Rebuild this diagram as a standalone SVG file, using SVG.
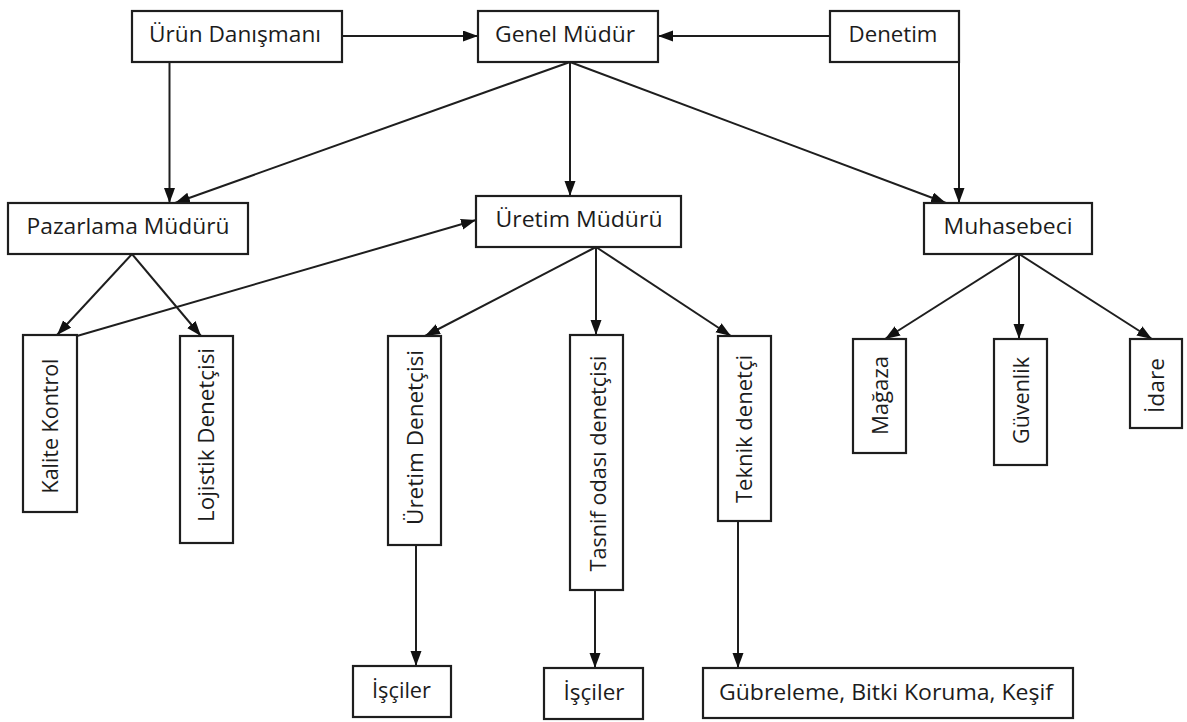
<svg xmlns="http://www.w3.org/2000/svg" width="1187" height="722" viewBox="0 0 1187 722">
<style>
.box{fill:#fff;stroke:#1e1e1e;stroke-width:2.2}
.t{font-family:"Open Sans","Noto Sans","DejaVu Sans",sans-serif;font-size:22.5px;fill:#1c1c1c;text-anchor:middle}
.c{fill:none;stroke:#1e1e1e;stroke-width:2}
</style>
<defs>
<marker id="ah" markerUnits="userSpaceOnUse" markerWidth="16" markerHeight="12" refX="15" refY="5.5" orient="auto">
<path d="M0,0 L15,5.5 L0,11 z" fill="#111"/>
</marker>
</defs>
<rect width="1187" height="722" fill="#fff"/>
<g id="connectors">
<line class="c" x1="342" y1="36" x2="478" y2="36" marker-end="url(#ah)"/>
<line class="c" x1="830" y1="36" x2="658" y2="36" marker-end="url(#ah)"/>
<line class="c" x1="169.5" y1="62" x2="169.5" y2="203" marker-end="url(#ah)"/>
<line class="c" x1="570" y1="62" x2="175" y2="203" marker-end="url(#ah)"/>
<line class="c" x1="570" y1="62" x2="570" y2="196" marker-end="url(#ah)"/>
<line class="c" x1="570" y1="62" x2="946" y2="203" marker-end="url(#ah)"/>
<line class="c" x1="959" y1="62" x2="959" y2="203" marker-end="url(#ah)"/>
<line class="c" x1="77" y1="336" x2="476" y2="220" marker-end="url(#ah)"/>
<line class="c" x1="132" y1="254" x2="57" y2="335" marker-end="url(#ah)"/>
<line class="c" x1="132" y1="254" x2="201" y2="336" marker-end="url(#ah)"/>
<line class="c" x1="596" y1="247" x2="425" y2="336" marker-end="url(#ah)"/>
<line class="c" x1="596" y1="247" x2="596" y2="335" marker-end="url(#ah)"/>
<line class="c" x1="596" y1="247" x2="731" y2="336" marker-end="url(#ah)"/>
<line class="c" x1="1019" y1="254" x2="885" y2="339" marker-end="url(#ah)"/>
<line class="c" x1="1019" y1="254" x2="1019" y2="339" marker-end="url(#ah)"/>
<line class="c" x1="1019" y1="254" x2="1152" y2="339" marker-end="url(#ah)"/>
<line class="c" x1="416" y1="545" x2="416" y2="666" marker-end="url(#ah)"/>
<line class="c" x1="595" y1="590" x2="595" y2="668" marker-end="url(#ah)"/>
<line class="c" x1="738" y1="521" x2="738" y2="668" marker-end="url(#ah)"/>
</g>
<g id="urun-danismani"><rect class="box" x="132" y="11" width="210" height="51"/><text class="t" x="235" y="42" textLength="172" lengthAdjust="spacingAndGlyphs">Ürün Danışmanı</text></g>
<g id="genel-mudur"><rect class="box" x="478" y="11" width="180" height="51"/><text class="t" x="565" y="42" textLength="140" lengthAdjust="spacingAndGlyphs">Genel Müdür</text></g>
<g id="denetim"><rect class="box" x="830" y="11" width="129" height="51"/><text class="t" x="893" y="42" textLength="89" lengthAdjust="spacingAndGlyphs">Denetim</text></g>
<g id="pazarlama-muduru"><rect class="box" x="8" y="203" width="240" height="51"/><text class="t" x="128" y="234" textLength="203" lengthAdjust="spacingAndGlyphs">Pazarlama Müdürü</text></g>
<g id="uretim-muduru"><rect class="box" x="476" y="196" width="205" height="51"/><text class="t" x="579" y="227" textLength="167" lengthAdjust="spacingAndGlyphs">Üretim Müdürü</text></g>
<g id="muhasebeci"><rect class="box" x="924" y="203" width="168" height="51"/><text class="t" x="1008" y="234" textLength="129" lengthAdjust="spacingAndGlyphs">Muhasebeci</text></g>
<g id="kalite-kontrol"><rect class="box" x="23" y="335" width="54" height="177"/><text class="t" transform="translate(49.5,426) rotate(-90)" x="0" y="8" textLength="135" lengthAdjust="spacingAndGlyphs">Kalite Kontrol</text></g>
<g id="lojistik-denetcisi"><rect class="box" x="180" y="336" width="53" height="207"/><text class="t" transform="translate(206,435) rotate(-90)" x="0" y="8" textLength="174" lengthAdjust="spacingAndGlyphs">Lojistik Denetçisi</text></g>
<g id="uretim-denetcisi"><rect class="box" x="388" y="336" width="53" height="209"/><text class="t" transform="translate(414.5,437.5) rotate(-90)" x="0" y="8" textLength="175" lengthAdjust="spacingAndGlyphs">Üretim Denetçisi</text></g>
<g id="tasnif-odasi-denetcisi"><rect class="box" x="570" y="335" width="53" height="255"/><text class="t" transform="translate(598,463.5) rotate(-90)" x="0" y="8" textLength="216" lengthAdjust="spacingAndGlyphs">Tasnif odası denetçisi</text></g>
<g id="teknik-denetci"><rect class="box" x="718" y="336" width="53" height="185"/><text class="t" transform="translate(744,429) rotate(-90)" x="0" y="8" textLength="148" lengthAdjust="spacingAndGlyphs">Teknik denetçi</text></g>
<g id="magaza"><rect class="box" x="853" y="339" width="53" height="114"/><text class="t" transform="translate(879.5,395.5) rotate(-90)" x="0" y="8" textLength="79" lengthAdjust="spacingAndGlyphs">Mağaza</text></g>
<g id="guvenlik"><rect class="box" x="994" y="339" width="53" height="126"/><text class="t" transform="translate(1020.5,400.5) rotate(-90)" x="0" y="8" textLength="87" lengthAdjust="spacingAndGlyphs">Güvenlik</text></g>
<g id="idare"><rect class="box" x="1130" y="339" width="52" height="89"/><text class="t" transform="translate(1156,385.5) rotate(-90)" x="0" y="8" textLength="55" lengthAdjust="spacingAndGlyphs">İdare</text></g>
<g id="isciler-1"><rect class="box" x="353" y="666" width="98" height="51"/><text class="t" x="401.5" y="698" textLength="59" lengthAdjust="spacingAndGlyphs">İşçiler</text></g>
<g id="isciler-2"><rect class="box" x="544" y="668" width="99" height="51"/><text class="t" x="594" y="700" textLength="61" lengthAdjust="spacingAndGlyphs">İşçiler</text></g>
<g id="gubreleme"><rect class="box" x="703" y="668" width="370" height="50"/><text class="t" x="886" y="700" textLength="334" lengthAdjust="spacingAndGlyphs">Gübreleme, Bitki Koruma, Keşif</text></g>
</svg>
